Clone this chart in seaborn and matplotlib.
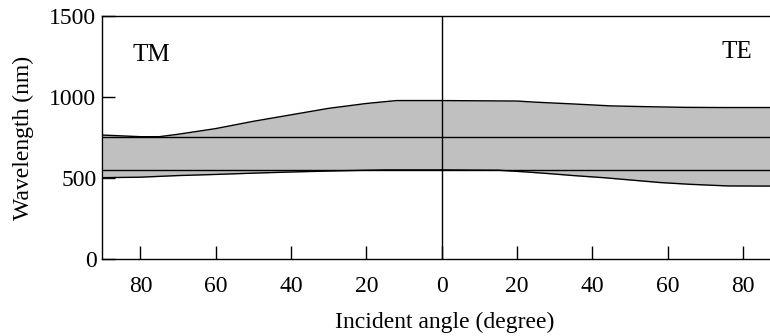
import numpy as np
import pandas as pd
import matplotlib
matplotlib.use("Agg")
import matplotlib.pyplot as plt
import seaborn as sns

# ---- data ----
tm_angle = [90, 80, 75, 70, 60, 50, 40, 30, 20, 12, 0]
tm_upper = [765, 755, 755, 770, 805, 850, 890, 930, 960, 978, 978]
tm_angle_lo = [90, 80, 70, 60, 50, 40, 30, 20, 15, 0]
tm_lower = [502, 505, 515, 522, 530, 537, 543, 548, 550, 550]

te_angle = [0, 20, 25, 35, 45, 55, 65, 75, 90]
te_upper = [978, 975, 968, 957, 945, 940, 936, 935, 935]
te_angle_lo = [0, 15, 22, 28, 35, 43, 50, 58, 66, 76, 90]
te_lower = [550, 548, 538, 528, 515, 502, 488, 472, 461, 451, 450]

ref_levels = [755, 550]
x_ticks_left = [80, 60, 40, 20, 0]
x_ticks_right = [20, 40, 60, 80]
y_ticks = [0, 500, 1000, 1500]
mode_labels = ["TM", "TE"]

sns.set_style("ticks")
plt.rcParams["font.family"] = ["Liberation Serif", "DejaVu Serif"]

fig = plt.figure(figsize=(7.7, 3.36), dpi=100)
ax = fig.add_axes([102 / 770, 1 - 259 / 336, 1 - 102 / 770, (259 - 16) / 336])

# x coordinate: TM side negative, TE side positive
tm_x = -np.array(tm_angle, dtype=float)
tm_xlo = -np.array(tm_angle_lo, dtype=float)
te_x = np.array(te_angle, dtype=float)
te_xlo = np.array(te_angle_lo, dtype=float)

# fill region between boundaries
grid_tm = np.linspace(-90, 0, 400)
up_tm = np.interp(grid_tm, tm_x, tm_upper)
lo_tm = np.interp(grid_tm, tm_xlo, tm_lower)
ax.fill_between(grid_tm, lo_tm, up_tm, color="#c0c0c0", lw=0)
grid_te = np.linspace(0, 90, 400)
up_te = np.interp(grid_te, te_x, te_upper)
lo_te = np.interp(grid_te, te_xlo, te_lower)
ax.fill_between(grid_te, lo_te, up_te, color="#c0c0c0", lw=0)

lw = 1.0
for xs, ys in [(tm_x, tm_upper), (tm_xlo, tm_lower), (te_x, te_upper), (te_xlo, te_lower)]:
    df = pd.DataFrame({"x": xs, "y": ys})
    sns.lineplot(data=df, x="x", y="y", ax=ax, color="black", lw=lw, sort=False,
                 estimator=None)

for lev in ref_levels:
    ax.axhline(lev, color="black", lw=lw)
ax.axvline(0, color="black", lw=lw)

ax.set_xlim(-90.2, 87.2)
ax.set_ylim(0, 1500)

ticks = [-t for t in x_ticks_left] + x_ticks_right
ax.set_xticks(ticks)
ax.set_xticklabels([str(abs(t)) for t in ticks])
ax.set_yticks(y_ticks)
ax.set_yticklabels([str(t) for t in y_ticks])
ax.tick_params(axis="both", direction="in", length=9.5, width=1.0, labelsize=17,
               colors="black")
ax.tick_params(axis="x", pad=12)
ax.tick_params(axis="y", pad=4)

for s in ["left", "bottom", "top"]:
    ax.spines[s].set_color("black")
    ax.spines[s].set_linewidth(1.0)
ax.spines["right"].set_visible(False)

ax.set_xlabel("Incident angle (degree)", fontsize=17, color="black", labelpad=11)
ax.xaxis.label.set_x(0.513)
ax.set_ylabel("Wavelength (nm)", fontsize=17, color="black", labelpad=11)

ax.text(-77, 1260, mode_labels[0], fontsize=18, ha="center", va="center", color="black")
ax.text(78.5, 1275, mode_labels[1], fontsize=18, ha="center", va="center", color="black")

fig.savefig("out.png", dpi=100)
